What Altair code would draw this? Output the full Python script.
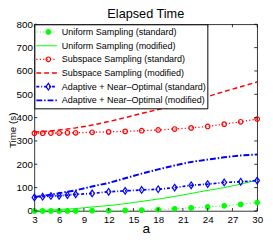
import altair as alt
import pandas as pd

# ---- data ----
a_vals = [3, 4, 5, 6, 7, 8, 10, 12, 14, 16, 18, 20, 22, 24, 26, 28, 30]
uniform_std = [0, 0, 0, 0, 0, 0, 1, 1, 2, 3, 6, 9, 13, 17, 22, 28, 36]
uniform_mod = [2, 3, 4, 6, 8, 10, 17, 23, 31, 41, 51, 62, 75, 88, 100, 115, 132]
subspace_std = [333, 333, 334, 334, 335, 335, 337, 339, 341, 344, 347, 351, 356, 362, 372, 382, 394]
subspace_mod = [338, 340, 343, 347, 351, 356, 368, 383, 400, 418, 435, 450, 470, 490, 512, 532, 553]
adaptive_std = [58, 61, 64, 65, 68, 71, 75, 82, 86, 90, 93, 100, 110, 115, 122, 125, 130]
adaptive_mod = [60, 65, 70, 76, 82, 88, 105, 120, 140, 160, 178, 195, 210, 220, 230, 238, 242]

names = [
    "Uniform Sampling (standard)",
    "Uniform Sampling (modified)",
    "Subspace Sampling (standard)",
    "Subspace Sampling (modified)",
    "Adaptive + Near–Optimal (standard)",
    "Adaptive + Near–Optimal (modified)",
]
series_values = [uniform_std, uniform_mod, subspace_std, subspace_mod, adaptive_std, adaptive_mod]
x_ticks = [3, 6, 9, 12, 15, 18, 21, 24, 27, 30]
y_ticks = [0, 100, 200, 300, 400, 500, 600, 700, 800]

# ---- styles ----
colors = ["#00ff00", "#00ff00", "#ff0000", "#ff0000", "#0000ff", "#0000ff"]
dashes = [[1.2, 2.3], [1, 0], [1.2, 2.3], [5, 3], [3, 2, 1, 2], [6, 2, 1.5, 2]]
widths = [0.8, 2, 0.8, 1.6, 1.1, 2]
diamond = "M0,-1.45L1,0L0,1.45L-1,0Z"
shapes = ["circle", "circle", "circle", "circle", diamond, diamond]
fills = ["#00ff00", "transparent", "transparent", "transparent", "transparent", "transparent"]
strokes = ["#00ff00", "transparent", "#ff0000", "transparent", "#0000ff", "transparent"]

FONT = "Liberation Sans"
W, H = 228, 191

# marker legend uses its own (label-less) domain so it is not merged with the line legend
mk_names = [n + " " for n in names]

rows = []
for n, m, vals in zip(names, mk_names, series_values):
    for a, v in zip(a_vals, vals):
        rows.append({"a": a, "time": v, "series": n, "mk": m})
df = pd.DataFrame(rows)
df_pts = df[df["series"].str.contains("standard")]

xt_df = pd.DataFrame({"a": x_ticks})
yt_df = pd.DataFrame({"time": y_ticks})

x_scale = alt.Scale(domain=[3, 30], nice=False, zero=False)
y_scale = alt.Scale(domain=[0, 800], nice=False)
x_axis = alt.Axis(values=x_ticks, title="a", labelPadding=4, labelOverlap=False,
                  labelBound=False, labelFlush=False,
                  titleFontSize=14, titleBaseline="alphabetic", titleY=22.5)
y_axis = alt.Axis(values=y_ticks, title="Time (s)", labelPadding=2, labelOverlap=False,
                  titleFontSize=10, titleBaseline="alphabetic",
                  titleX=-19.5, titleY=108)


def X():
    return alt.X("a:Q", scale=x_scale, axis=x_axis)


def Y():
    return alt.Y("time:Q", scale=y_scale, axis=y_axis)


line_leg = alt.Legend(orient="none", legendX=0, legendY=0, direction="vertical",
                      symbolType="stroke", symbolSize=441, clipHeight=13.7,
                      rowPadding=0, padding=1, labelFontSize=9.2, labelFont=FONT,
                      labelOffset=4, labelLimit=400, fillColor="white",
                      strokeColor="black", labelColor="black", zindex=1)
pt_leg = alt.Legend(orient="none", legendX=8.7, legendY=0, direction="vertical",
                    symbolSize=22, clipHeight=13.7, rowPadding=0, padding=1,
                    labelFontSize=9.2, labelFont=FONT, labelOffset=0, labelLimit=400,
                    labelExpr="''", symbolStrokeWidth=1.2, zindex=2)

lines = alt.Chart(df).mark_line().encode(
    x=X(), y=Y(),
    color=alt.Color("series:N", title=None, scale=alt.Scale(domain=names, range=colors), legend=line_leg),
    strokeDash=alt.StrokeDash("series:N", title=None, scale=alt.Scale(domain=names, range=dashes), legend=line_leg),
    strokeWidth=alt.StrokeWidth("series:N", title=None, scale=alt.Scale(domain=names, range=widths), legend=line_leg),
)

pts = alt.Chart(df_pts).mark_point(size=22, strokeWidth=1.2, opacity=1).encode(
    x=X(), y=Y(),
    shape=alt.Shape("mk:N", title=None, scale=alt.Scale(domain=mk_names, range=shapes), legend=pt_leg),
    fill=alt.Fill("mk:N", title=None, scale=alt.Scale(domain=mk_names, range=fills), legend=pt_leg),
    stroke=alt.Stroke("mk:N", title=None, scale=alt.Scale(domain=mk_names, range=strokes), legend=pt_leg),
)

tick_style = dict(color="black", strokeWidth=0.8)
xt_bot = alt.Chart(xt_df).mark_rule(**tick_style).encode(x=X(), y=alt.value(H), y2=alt.value(H - 3))
xt_top = alt.Chart(xt_df).mark_rule(**tick_style).encode(x=X(), y=alt.value(0), y2=alt.value(3))
yt_left = alt.Chart(yt_df).mark_rule(**tick_style).encode(y=Y(), x=alt.value(0), x2=alt.value(3))
yt_right = alt.Chart(yt_df).mark_rule(**tick_style).encode(y=Y(), x=alt.value(W), x2=alt.value(W - 3))

chart = alt.layer(lines, pts, xt_bot, xt_top, yt_left, yt_right).properties(
    width=W, height=H,
    autosize=alt.AutoSizeParams(type="none"),
    padding={"left": 27, "top": 14, "right": 8, "bottom": 24},
    title=alt.TitleParams("Elapsed Time", fontSize=13, font=FONT, fontWeight="normal",
                          offset=-2, color="black", anchor="middle"),
).configure_view(
    stroke="black", strokeWidth=0.8
).configure_axis(
    labelFont=FONT, labelFontSize=10, labelColor="black", titleFont=FONT, labelOverlap=False,
    titleColor="black", titleFontWeight="normal", ticks=False, domain=False, grid=False
)

chart.save("out.html", embed_options={"renderer": "svg", "actions": False})
